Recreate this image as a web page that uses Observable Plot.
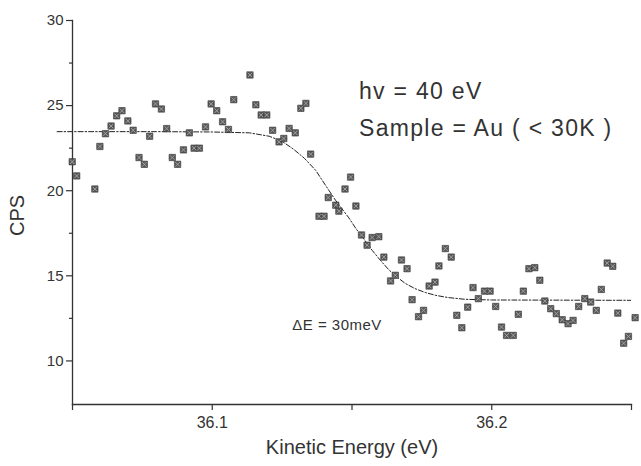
<!DOCTYPE html>
<html>
<head>
<meta charset="utf-8">
<script src="https://cdn.jsdelivr.net/npm/d3@7"></script>
<script src="https://cdn.jsdelivr.net/npm/@observablehq/plot@0.6"></script>
<style>
  html, body { margin: 0; padding: 0; background: #fff; }
  #chart { width: 641px; height: 466px; }
</style>
</head>
<body>
<div id="chart"></div>
<script>
// Measured points: kinetic energy (eV) and counts per second
const energy = [
  36.0499, 36.0515, 36.0580, 36.0598, 36.0618, 36.0638, 36.0658, 36.0677, 36.0698, 36.0717,
  36.0738, 36.0757, 36.0776, 36.0797, 36.0818, 36.0837, 36.0857, 36.0876, 36.0897, 36.0918,
  36.0935, 36.0954, 36.0976, 36.0996, 36.1016, 36.1037, 36.1058, 36.1077, 36.1135, 36.1156,
  36.1175, 36.1195, 36.1216, 36.1239, 36.1256, 36.1275, 36.1297, 36.1317, 36.1335, 36.1352,
  36.1382, 36.1400, 36.1415, 36.1442, 36.1453, 36.1475, 36.1495, 36.1514, 36.1534, 36.1554,
  36.1572, 36.1596, 36.1614, 36.1638, 36.1655, 36.1677, 36.1697, 36.1715, 36.1738, 36.1756,
  36.1776, 36.1797, 36.1811, 36.1834, 36.1855, 36.1875, 36.1893, 36.1914, 36.1933, 36.1952,
  36.1974, 36.1994, 36.2014, 36.2035, 36.2053, 36.2077, 36.2095, 36.2113, 36.2133, 36.2154,
  36.2172, 36.2190, 36.2211, 36.2231, 36.2252, 36.2273, 36.2291, 36.2311, 36.2333, 36.2354,
  36.2374, 36.2392, 36.2413, 36.2433, 36.2451, 36.2472, 36.2489, 36.2513
];
const cps = [
  21.7, 20.87, 20.1, 22.6, 23.35, 23.8, 24.4, 24.7, 24.1, 23.55,
  21.95, 21.55, 23.2, 25.1, 24.8, 23.65, 21.95, 21.55, 22.4, 23.4,
  22.5, 22.5, 23.75, 25.1, 24.7, 24.05, 23.6, 25.35, 26.8, 25.05,
  24.45, 24.45, 23.55, 22.87, 23.07, 23.66, 23.4, 24.84, 25.13, 22.15,
  18.5, 18.5, 19.6, 19.15, 18.8, 20.1, 20.8, 19.1, 17.4, 16.8,
  17.25, 17.3, 16.1, 14.7, 15.03, 15.93, 15.42, 13.6, 12.6, 12.97,
  14.4, 14.63, 15.58, 16.6, 16.1, 12.68, 11.95, 13.16, 14.31, 13.66,
  14.1, 14.1, 13.2, 11.99, 11.5, 11.5, 12.74, 14.1, 15.42, 15.48,
  14.74, 13.52, 13.07, 12.78, 12.42, 12.19, 12.38, 13.2, 13.66, 13.46,
  12.97, 14.2, 15.75, 15.56, 12.81, 11.04, 11.44, 12.54
];

// Fitted curve
const fitEnergy = [
  36.0445, 36.0800, 36.1000, 36.1133, 36.1204, 36.1250, 36.1290, 36.1330, 36.1370, 36.1406,
  36.1441, 36.1489, 36.1513, 36.1545, 36.1572, 36.1602, 36.1632, 36.1667, 36.1691, 36.1725,
  36.1762, 36.1800, 36.1845, 36.1905, 36.2000, 36.2497
];
const fitCps = [
  23.47, 23.47, 23.45, 23.40, 23.20, 22.90, 22.45, 21.90, 21.20, 20.30,
  19.44, 18.40, 17.80, 17.10, 16.50, 15.90, 15.35, 14.85, 14.55, 14.25,
  14.02, 13.85, 13.72, 13.62, 13.58, 13.56
];

// Axis ticks
const xTickLabels = [36.1, 36.2];
const xTickMinor = [36.05, 36.15, 36.25];
const yTickLabels = [10, 15, 20, 25, 30];
const yTickMinor = [12.5, 17.5, 22.5, 27.5];

// Annotation texts
const annotations = ["hv = 40 eV", "Sample = Au ( < 30K )"];
const resolutionText = "\u0394E = 30meV";

const points = energy.map((e, i) => ({e, c: cps[i]}));
const fit = fitEnergy.map((e, i) => ({e, c: fitCps[i]}));

const ink = "#333";
const chart = Plot.plot({
  width: 641,
  height: 466,
  marginLeft: 72,
  marginRight: 10,
  marginTop: 20,
  marginBottom: 62,
  style: {fontFamily: "'Liberation Sans', Arial, Helvetica, sans-serif", fontSize: "15px", color: ink, background: "#fff"},
  x: {domain: [36.05, 36.25]},
  y: {domain: [7.44, 30]},
  marks: [
    Plot.frame({anchor: "left", stroke: ink, strokeWidth: 1.3}),
    Plot.frame({anchor: "bottom", stroke: ink, strokeWidth: 1.3}),
    Plot.axisY({ticks: yTickLabels, tickSize: 6, tickPadding: 3, label: null, fontSize: 15, stroke: ink, strokeWidth: 1.2}),
    Plot.axisY({ticks: yTickMinor, tickSize: 3, text: null, label: null, stroke: ink, strokeWidth: 1.2}),
    Plot.axisX({ticks: xTickLabels, tickSize: 6, tickPadding: 6, label: null, fontSize: 16, tickFormat: d3.format(".1f"), stroke: ink, strokeWidth: 1.2}),
    Plot.axisX({ticks: xTickMinor, tickSize: 6, text: null, label: null, stroke: ink, strokeWidth: 1.2}),
    Plot.text(["Kinetic Energy (eV)"], {frameAnchor: "bottom", dy: 49, fontSize: 20, fill: ink, textAnchor: "middle"}),
    Plot.text(["CPS"], {frameAnchor: "left", dx: -55, dy: 3, rotate: -90, fontSize: 20, fill: ink, textAnchor: "middle"}),
    Plot.line(fit, {x: "e", y: "c", stroke: "#222", strokeWidth: 1, strokeDasharray: "5,2,1.5,2", clip: false}),
    Plot.dot(points, {x: "e", y: "c", symbol: "square", r: 3.6, fill: "#585858", stroke: "#383838", strokeWidth: 0.6}),
    Plot.dot(points, {x: "e", y: "c", symbol: "times", r: 2.2, stroke: "#b0b0b0", strokeWidth: 0.8}),
    Plot.text([annotations[0]], {x: 36.1525, y: 25.85, textAnchor: "start", fontSize: 23, fill: ink}),
    Plot.text([annotations[1]], {x: 36.1525, y: 23.62, textAnchor: "start", fontSize: 23, fill: ink}),
    Plot.text([resolutionText], {x: 36.1286, y: 12.09, textAnchor: "start", fontSize: 15, fill: ink})
  ]
});
// wider tracking, as in the original typesetting
d3.select(chart).selectAll("text")
  .filter(function() { return annotations.includes(this.textContent); })
  .attr("letter-spacing", "1.3px");
d3.select(chart).selectAll("text")
  .filter(function() { return this.textContent === resolutionText; })
  .attr("letter-spacing", "0.5px");
document.getElementById("chart").appendChild(chart);
</script>
</body>
</html>
